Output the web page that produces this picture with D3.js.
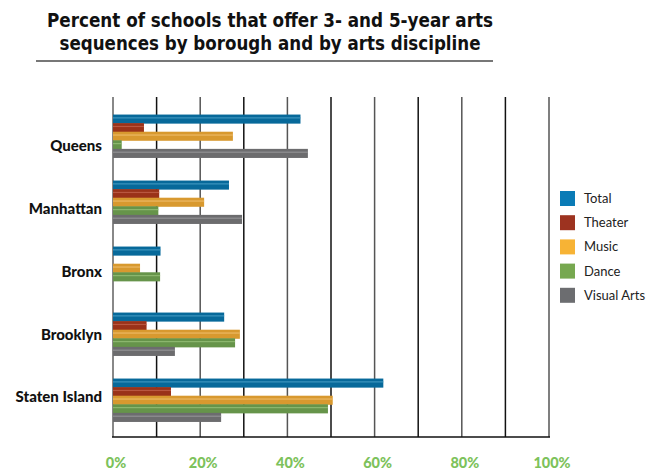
<!DOCTYPE html>
<html><head><meta charset="utf-8">
<script src="https://cdn.jsdelivr.net/npm/d3@7"></script>
<style>body{margin:0;background:#fff}svg{display:block}</style>
</head><body>
<script>
const boroughs = ["Queens","Manhattan","Bronx","Brooklyn","Staten Island"];
const seriesNames = ["Total","Theater","Music","Dance","Visual Arts"];
const total      = [43, 26.6, 10.9, 25.5, 62];
const theater    = [7.1, 10.6, 0, 7.7, 13.3];
const music      = [27.5, 20.9, 6.2, 29.1, 50.4];
const dance      = [2, 10.4, 10.8, 28, 49.3];
const visualArts = [44.7, 29.6, 0, 14.2, 24.8];
const tickLabels = ["0%","20%","40%","60%","80%","100%"];
const tickValues = [0,20,40,60,80,100];
const titleLines = ["Percent of schools that offer 3- and 5-year arts","sequences by borough and by arts discipline"];

const seriesValues = [total, theater, music, dance, visualArts];
const barColors = ["#07699a","#9a3219","#d8992f","#66944a","#6c6c6e"];
const hiColors  = ["#4aa0c8","#c0604a","#f0c070","#96bf78","#9a9a9c"];
const legendColors = ["#0a7bb6","#9d3320","#f7b335","#77a850","#6c6d70"];

const W=663,H=472;
const svg=d3.select("body").append("svg").attr("width",W).attr("height",H);

const x=d3.scaleLinear().domain([0,100]).range([113,549]);
const y0=d3.scaleBand().domain(boroughs).range([103,433]).paddingInner(0.35).paddingOuter(0.175);
const y1=d3.scaleBand().domain(seriesNames).range([0,y0.bandwidth()]);
const yLab=d3.scalePoint().domain(boroughs).range([146,397]);

// title
svg.selectAll("text.title").data(titleLines).enter().append("text")
  .attr("x",270).attr("y",(d,i)=>27+i*23)
  .attr("text-anchor","middle")
  .attr("textLength",(d,i)=>i===0?446:421).attr("lengthAdjust","spacingAndGlyphs")
  .style("font-family","'Liberation Sans Narrow','DejaVu Sans Condensed',sans-serif")
  .style("font-weight","bold").style("font-size","20px").style("fill","#111")
  .text(d=>d);
svg.append("line").attr("x1",36).attr("x2",493).attr("y1",61).attr("y2",61)
  .attr("stroke","#777").attr("stroke-width",2);

// grid
const grid=d3.range(0,101,10);
svg.selectAll("line.grid").data(grid).enter().append("line")
  .attr("x1",d=>x(d)).attr("x2",d=>x(d)).attr("y1",97).attr("y2",437)
  .attr("stroke",d=>d===0?"#888":(d%20===10?"#111":"#555")).attr("stroke-width",d=>d===0?2:1.5);

// bars
boroughs.forEach((b,bi)=>{
  const g=svg.append("g").attr("transform",`translate(0,${y0(b)})`);
  seriesNames.forEach((s,si)=>{
    const v=seriesValues[si][bi];
    if(!v) return;
    const yy=y1(s), h=y1.bandwidth()+0.5;
    g.append("rect").attr("x",x(0)).attr("y",yy).attr("width",x(v)-x(0)).attr("height",h)
      .attr("fill",barColors[si]);
    g.append("rect").attr("x",x(0)).attr("y",yy+h*0.3).attr("width",x(v)-x(0)).attr("height",1.2)
      .attr("fill",hiColors[si]).attr("opacity",0.8);
  });
});

// bottom axis line
svg.append("line").attr("x1",112).attr("x2",550).attr("y1",437).attr("y2",437).attr("stroke","#111").attr("stroke-width",1.5);

// category labels
svg.selectAll("text.cat").data(boroughs).enter().append("text")
  .attr("x",102).attr("y",d=>yLab(d)).attr("dy","0.35em").attr("text-anchor","end")
  .style("font-family","Lato, sans-serif").style("font-weight","900").style("font-size","15px").style("fill","#111")
  .text(d=>d);

// x tick labels
svg.selectAll("text.tick").data(tickValues).enter().append("text")
  .attr("x",d=>x(d)+3).attr("y",468).attr("text-anchor","middle")
  .style("font-family","Lato, sans-serif").style("font-weight","900").style("font-size","14.5px").style("fill","#7dc25b")
  .text((d,i)=>tickLabels[i]);

// legend
const lg=svg.selectAll("g.leg").data(seriesNames).enter().append("g")
  .attr("transform",(d,i)=>`translate(560,${191+i*24.2})`);
lg.append("rect").attr("width",15).attr("height",15).attr("fill",(d,i)=>legendColors[i]);
lg.append("text").attr("x",24).attr("y",7.5).attr("dy","0.35em")
  .style("font-family","Lato, sans-serif").style("font-size","13px").style("fill","#222")
  .text(d=>d);
</script>
</body></html>
